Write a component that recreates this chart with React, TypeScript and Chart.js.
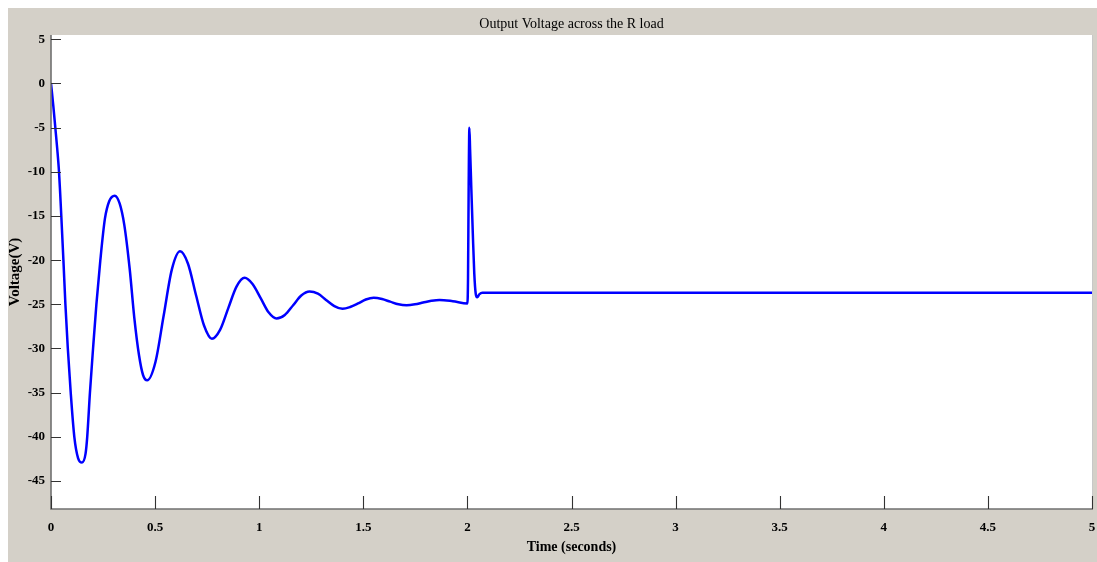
import { useEffect, useRef } from "react";
import { Chart, registerables } from "chart.js";

Chart.register(...registerables);

// ---- data ----
const timeS = [
  0.0, 0.011, 0.0207, 0.0303, 0.0385, 0.0442, 0.0495, 0.0596, 0.0692, 0.0808, 0.0947, 0.112, 0.13, 0.149,
  0.166, 0.174, 0.187, 0.202, 0.218, 0.237, 0.259, 0.28, 0.306,
  0.33, 0.352, 0.378, 0.4, 0.423, 0.442, 0.462,
  0.502, 0.541, 0.58, 0.62,
  0.658, 0.697, 0.735, 0.773,
  0.812, 0.852, 0.891, 0.93,
  0.968, 1.007, 1.045, 1.083,
  1.123, 1.163, 1.202, 1.242,
  1.282, 1.321, 1.361, 1.4,
  1.437, 1.475, 1.512, 1.55,
  1.59, 1.629, 1.669, 1.708,
  1.748, 1.787, 1.827, 1.866,
  1.93, 2.0,
  2.003, 2.006, 2.0095, 2.013, 2.019, 2.026, 2.033, 2.04, 2.047, 2.058, 2.072,
  5.0,
];
const voltageV = [
  0, -2.5, -5, -7.5, -10, -12.5, -15, -20, -25, -30, -35, -40, -42.4, -42.9,
  -41.9, -40, -35, -30, -25, -20, -15.3, -13.3, -12.7,
  -13.6, -16, -21, -26.5, -30.8, -33.0, -33.6,
  -31.5, -26.3, -21.1, -19.0,
  -20.4, -24.0, -27.4, -28.9,
  -27.9, -25.4, -23.0, -22.0,
  -22.7, -24.3, -25.9, -26.6,
  -26.2, -25.1, -24.0, -23.55,
  -23.8, -24.5, -25.2, -25.5,
  -25.3, -24.9, -24.45, -24.25,
  -24.4, -24.7, -25.0, -25.1,
  -25.0, -24.8, -24.6, -24.5,
  -24.65, -24.9,
  -22, -12, -5.0, -7.5, -12, -17, -21.5, -23.8, -24.2, -23.85, -23.7,
  -23.7,
];

const xTickValues = [0, 0.5, 1, 1.5, 2, 2.5, 3, 3.5, 4, 4.5, 5];
const xTickLabels = ["0", "0.5", "1", "1.5", "2", "2.5", "3", "3.5", "4", "4.5", "5"];
const yTickValues = [5, 0, -5, -10, -15, -20, -25, -30, -35, -40, -45];
const yTickLabels = ["5", "0", "-5", "-10", "-15", "-20", "-25", "-30", "-35", "-40", "-45"];

const chartTitle = "Output Voltage across the R load";
const xAxisTitle = "Time (seconds)";
const yAxisTitle = "Voltage(V)";

const SERIF = "'Liberation Serif', 'Times New Roman', serif";

export default function App() {
  const canvasRef = useRef<HTMLCanvasElement | null>(null);

  useEffect(() => {
    const canvas = canvasRef.current;
    if (!canvas) return;

    const decorPlugin = {
      id: "decor",
      beforeDraw(chart: any) {
        const { ctx, width, height, chartArea: a } = chart;
        ctx.save();
        ctx.fillStyle = "#d4d0c8";
        ctx.fillRect(0, 0, width, height);
        ctx.fillStyle = "#ffffff";
        ctx.fillRect(a.left, a.top, a.right - a.left, a.bottom - a.top);
        ctx.restore();
      },
      afterDatasetsDraw(chart: any) {
        const { ctx, chartArea: a, scales } = chart;
        ctx.save();
        // faint right border
        ctx.strokeStyle = "#c8c8c8";
        ctx.lineWidth = 1;
        ctx.beginPath();
        ctx.moveTo(a.right + 0.5, a.top);
        ctx.lineTo(a.right + 0.5, a.bottom);
        ctx.stroke();
        // axis lines
        ctx.strokeStyle = "#707070";
        ctx.lineWidth = 1.6;
        ctx.beginPath();
        ctx.moveTo(a.left, a.top);
        ctx.lineTo(a.left, a.bottom);
        ctx.lineTo(a.right + 1, a.bottom);
        ctx.stroke();
        // inward ticks
        ctx.strokeStyle = "#333333";
        ctx.lineWidth = 1.1;
        ctx.beginPath();
        for (const v of yTickValues) {
          const py = Math.round(scales.y.getPixelForValue(v)) + 0.5;
          ctx.moveTo(a.left, py);
          ctx.lineTo(a.left + 10, py);
        }
        for (const v of xTickValues) {
          const px = Math.round(scales.x.getPixelForValue(v)) + 0.5;
          ctx.moveTo(px, a.bottom);
          ctx.lineTo(px, a.bottom - 13);
        }
        ctx.stroke();
        ctx.restore();
      },
      afterDraw(chart: any) {
        const { ctx, chartArea: a } = chart;
        ctx.save();
        ctx.fillStyle = "#000";
        ctx.font = `14px ${SERIF}`;
        ctx.textAlign = "center";
        ctx.textBaseline = "middle";
        ctx.fillText(chartTitle, (a.left + a.right) / 2, 16);
        ctx.restore();
      },
    };

    const chart = new Chart(canvas, {
      type: "line",
      data: {
        datasets: [
          {
            label: "Voltage",
            data: timeS.map((t, i) => ({ x: t, y: voltageV[i] })),
            borderColor: "#0000ff",
            borderWidth: 2.5,
            pointRadius: 0,
            fill: false,
            cubicInterpolationMode: "monotone",
          },
        ],
      },
      options: {
        animation: false,
        responsive: false,
        devicePixelRatio: 1,
        layout: { autoPadding: false, padding: { top: 27, right: 5, left: 0, bottom: 0 } },
        plugins: {
          legend: { display: false },
          tooltip: { enabled: false },
          title: { display: false },
        },
        scales: {
          x: {
            type: "linear",
            min: 0,
            max: 5,
            afterBuildTicks: (s: any) => {
              s.ticks = xTickValues.map((v) => ({ value: v }));
            },
            afterFit: (s: any) => {
              s.height = 53;
              s.paddingLeft = 0;
              s.paddingRight = 0;
            },
            grid: { display: false, drawTicks: false },
            border: { display: false },
            ticks: {
              autoSkip: false,
              maxRotation: 0,
              padding: 11,
              color: "#000",
              font: { family: SERIF, size: 13, weight: "bold" },
              callback: (_v: any, i: number) => xTickLabels[i],
            },
            title: {
              display: true,
              text: xAxisTitle,
              color: "#000",
              font: { family: SERIF, size: 14, weight: "bold", lineHeight: 1.2 },
              padding: { top: 0, bottom: 6.6 },
            },
          },
          y: {
            type: "linear",
            min: -48.17,
            max: 5.49,
            afterBuildTicks: (s: any) => {
              s.ticks = yTickValues.map((v) => ({ value: v }));
            },
            afterFit: (s: any) => {
              s.width = 43;
              s.paddingTop = 0;
              s.paddingBottom = 0;
            },
            grid: { display: false, drawTicks: false },
            border: { display: false },
            ticks: {
              autoSkip: false,
              padding: 6,
              color: "#000",
              font: { family: SERIF, size: 13, weight: "bold" },
              callback: (_v: any, i: number) => yTickLabels[i],
            },
            title: {
              display: true,
              text: yAxisTitle,
              color: "#000",
              font: { family: SERIF, size: 15, weight: "bold", lineHeight: 1 },
              padding: { top: 0, bottom: 0 },
            },
          },
        },
      },
      plugins: [decorPlugin],
    } as any);

    return () => {
      chart.destroy();
    };
  }, []);

  return (
    <div style={{ position: "fixed", left: 8, top: 8, width: 1089, height: 554 }}>
      <canvas ref={canvasRef} width={1089} height={554} style={{ display: "block" }} />
    </div>
  );
}
